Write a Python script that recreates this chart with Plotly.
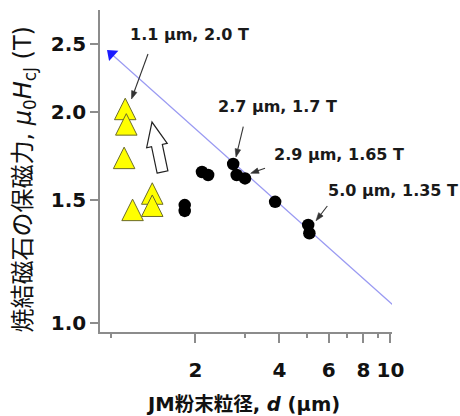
import math
import plotly.graph_objects as go

# ---------------- data ----------------
# yellow triangles: JM powder (fine) samples
tri_x = [1.12, 1.13, 1.11, 1.40, 1.40, 1.19]
tri_y = [2.02, 1.92, 1.72, 1.53, 1.47, 1.45]
# black dots: conventional powders
dot_x = [1.83, 1.83, 2.11, 2.22, 2.73, 2.81, 3.01, 3.86, 5.07, 5.12]
dot_y = [1.473, 1.445, 1.642, 1.626, 1.686, 1.626, 1.608, 1.489, 1.380, 1.343]
# guide line (log-log)
fit_x = [1.0, 10.4]
fit_y = [2.42, 1.054]

x_tickvals = [2, 4, 6, 8, 10]
x_ticktext = ["2", "4", "6", "8", "10"]
x_minorvals = [1, 3, 5, 7, 9]
y_tickvals = [1.0, 1.5, 2.0, 2.5]
y_ticktext = ["1.0", "1.5", "2.0", "2.5"]

labels = ["1.1 μm, 2.0 T", "2.7 μm, 1.7 T", "2.9 μm, 1.65 T", "5.0 μm, 1.35 T"]

# ---------------- layout geometry ----------------
W, H = 460, 416
L, R, T, B = 100, 68, 10, 84
PW, PH = W - L - R, H - T - B


def px(x, y):
    """pixel position -> paper coordinates"""
    return (x - L) / PW, (H - B - y) / PH


def poly_path(points):
    s = ""
    for i, (qx, qy) in enumerate(points):
        xp, yp = px(qx, qy)
        s += ("M" if i == 0 else "L") + f"{xp:.5f},{yp:.5f}"
    return s + "Z"


AX = "#8c8c8c"
LAT = "DejaVu Sans, Noto Sans CJK JP"
TRI = 21.5

fig = go.Figure()

fig.add_trace(go.Scatter(
    x=fit_x, y=fit_y, mode="lines",
    line=dict(color="#9a9af2", width=1.2), hoverinfo="skip", showlegend=False))
fig.add_trace(go.Scatter(
    x=fit_x[:1], y=fit_y[:1], mode="markers",
    marker=dict(symbol="triangle-up", size=12, angle=-48, color="#1a1aff",
                line=dict(width=0)),
    cliponaxis=False, showlegend=False))
fig.add_trace(go.Scatter(
    x=dot_x, y=dot_y, mode="markers",
    marker=dict(symbol="circle", size=12.5, color="black", line=dict(width=0)),
    cliponaxis=False, showlegend=False))
fig.add_trace(go.Scatter(
    x=tri_x, y=tri_y, mode="markers",
    marker=dict(symbol="arrow-down", size=TRI, angle=180, standoff=TRI / 2,
                color="#ffff00", line=dict(color="#6b6b2a", width=1)),
    cliponaxis=False, showlegend=False))

annotations = []
# value labels
text_pos = [(189, 35), (277.5, 107), (339, 154), (392.5, 190.5)]
for txt, (tx, ty) in zip(labels, text_pos):
    xp, yp = px(tx, ty)
    annotations.append(dict(
        x=xp, y=yp, xref="paper", yref="paper", text=txt, showarrow=False,
        xanchor="center", yanchor="middle",
        font=dict(family=LAT, size=16, color="#1a1a1a", weight="bold")))

# axis titles
xp, yp = px(24, 179.5)
annotations.append(dict(
    x=xp, y=yp, xref="paper", yref="paper", textangle=-90, showarrow=False,
    xanchor="center", yanchor="middle",
    text="焼結磁石の保磁力, <i>μ</i><sub>0</sub><i>H</i><sub>cJ</sub> (T)",
    font=dict(family=LAT, size=24, color="#111111")))
xp, yp = px(243, 404)
annotations.append(dict(
    x=xp, y=yp, xref="paper", yref="paper", showarrow=False,
    xanchor="center", yanchor="middle",
    text="JM粉末粒径, <i>d</i> (μm)",
    font=dict(family=LAT, size=19.5, color="#111111", weight="bold")))

shapes = []
# pointer arrows (tail -> head, in pixels), drawn as line + filled head
arrows = [((148, 54), (131.5, 99)),
          ((243.3, 126.7), (236, 157)),
          ((265, 168.3), (250.7, 173.3)),
          ((327.3, 206), (316, 220.7))]
HL, HW = 8.0, 2.8
for (t_x, t_y), (h_x, h_y) in arrows:
    dx, dy = h_x - t_x, h_y - t_y
    n = math.hypot(dx, dy)
    ux_, uy_ = dx / n, dy / n
    bxa, bya = h_x - HL * ux_, h_y - HL * uy_
    x0, y0 = px(t_x, t_y)
    x1, y1 = px(bxa + 0.5 * ux_, bya + 0.5 * uy_)
    shapes.append(dict(type="line", xref="paper", yref="paper",
                       x0=x0, y0=y0, x1=x1, y1=y1,
                       line=dict(color="#333333", width=1.1)))
    head = [(h_x, h_y),
            (bxa - HW * uy_, bya + HW * ux_),
            (bxa + HW * uy_, bya - HW * ux_)]
    shapes.append(dict(type="path", xref="paper", yref="paper",
                       path=poly_path(head), fillcolor="#333333",
                       line=dict(color="#333333", width=0.6)))

# hollow block arrow (decoration)
bx, by = 162.5, 172.0
ux, uy = -0.206, -0.979
nx, ny = 0.979, -0.206
L_all, L_shaft, hw, sw = 51, 27, 10.5, 5.5
pts = [
    (bx - sw * nx, by - sw * ny),
    (bx + sw * nx, by + sw * ny),
    (bx + L_shaft * ux + sw * nx, by + L_shaft * uy + sw * ny),
    (bx + L_shaft * ux + hw * nx, by + L_shaft * uy + hw * ny),
    (bx + L_all * ux, by + L_all * uy),
    (bx + L_shaft * ux - hw * nx, by + L_shaft * uy - hw * ny),
    (bx + L_shaft * ux - sw * nx, by + L_shaft * uy - sw * ny),
]
shapes.append(dict(type="path", xref="paper", yref="paper", path=poly_path(pts),
                   fillcolor="white", line=dict(color="#222222", width=1.2)))

fig.update_layout(
    width=W, height=H,
    margin=dict(l=L, r=R, t=T, b=B, pad=0),
    paper_bgcolor="white", plot_bgcolor="white",
    showlegend=False,
    annotations=annotations,
    shapes=shapes,
    xaxis=dict(
        type="log", range=[-0.0412, 1.0054],
        showgrid=False, zeroline=False,
        showline=True, linecolor=AX, linewidth=1.5,
        ticks="outside", ticklen=9, tickwidth=1.5, tickcolor=AX,
        tickvals=x_tickvals, ticktext=x_ticktext,
        ticklabelstandoff=10,
        tickfont=dict(family=LAT, size=20, color="#111111", weight="bold"),
        minor=dict(tickvals=x_minorvals, ticks="outside", ticklen=4,
                   tickwidth=1.5, tickcolor=AX, showgrid=False),
    ),
    yaxis=dict(
        type="log", range=[-0.01284, 0.4465],
        showgrid=False, zeroline=False,
        showline=True, linecolor=AX, linewidth=1.5,
        ticks="outside", ticklen=8, tickwidth=1.5, tickcolor=AX,
        tickvals=y_tickvals, ticktext=y_ticktext,
        tickfont=dict(family=LAT, size=20, color="#111111", weight="bold"),
    ),
)

fig.write_html("out.html",
               config={"displayModeBar": False},
               post_script="document.body.style.margin='0';"
                           "document.body.style.overflow='hidden';")
